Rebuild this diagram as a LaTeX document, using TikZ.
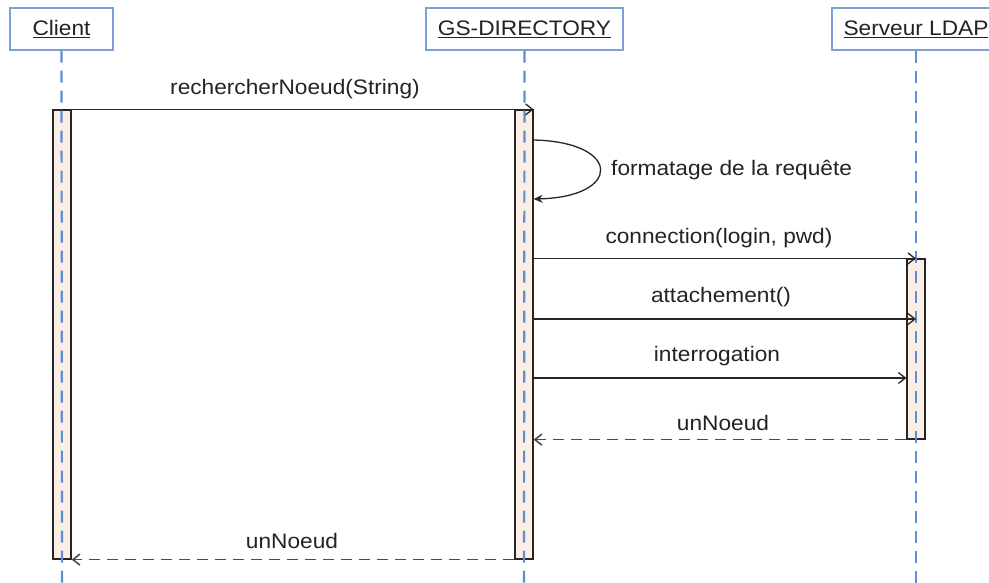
\documentclass[tikz,border=0pt]{standalone}
\usepackage{fontspec}
\setmainfont{Liberation Sans}[FakeStretch=1.08]
\usetikzlibrary{arrows.meta}
\definecolor{objblue}{RGB}{125,160,215}
\definecolor{lifeblue}{RGB}{95,140,212}
\definecolor{barfill}{RGB}{251,238,228}
\definecolor{txtgray}{RGB}{35,35,35}
\tikzset{
obj/.style={draw=objblue, line width=1.2pt, fill=white, minimum height=42, inner sep=0pt, text=txtgray},
life/.style={draw=lifeblue, line width=2.2pt, dash pattern=on 12pt off 8pt},
actbar/.style={draw=black!85, fill=barfill, line width=1.2pt, minimum width=18, inner sep=0pt},
call/.style={draw=black!85, line width=1.3pt, -{Straight Barb[length=7pt,width=11pt]}},
selfcall/.style={draw=black!85, line width=1.3pt, -{Stealth[length=9pt,width=8pt]}},
reply/.style={draw=black!70, line width=1.6pt, dash pattern=on 11pt off 7pt, -{Straight Barb[length=7pt,width=11pt]}},
lbl/.style={text=txtgray, inner sep=0pt}
}
\begin{document}
\begin{tikzpicture}[x=1pt,y=-1pt,font=\fontsize{21}{25}\selectfont]
\useasboundingbox (0,0) rectangle (989,582);
\node[obj, minimum width=103] (client) at (61.5,29) {\underline{Client}};
\node[obj, minimum width=197] (gsdir) at (524.5,29) {\underline{GS-DIRECTORY}};
\node[obj, minimum width=168] (ldap) at (916,29) {\underline{Serveur LDAP}};
\node[actbar, minimum height=449] (clientbar) at (62,334.5) {};
\node[actbar, minimum height=449] (gsbar) at (524,334.5) {};
\node[actbar, minimum height=180] (ldapbar) at (916,349) {};
\coordinate (clientend) at (62,585);
\coordinate (gsend) at (524,585);
\coordinate (ldapend) at (916,585);
\draw[life] (client.south) -- (clientend);
\draw[life] (gsdir.south) -- (gsend);
\draw[life] (ldap.south) -- (ldapend);
\draw[call] (clientbar.north east) -- (gsbar.north east);
\node[lbl] (rech) at (295,89) {rechercherNoeud(String)};
\coordinate (fmtstart) at (gsbar.east |- 0,140);
\coordinate (fmtend) at (gsbar.east |- 0,199);
\draw[selfcall] (fmtstart) .. controls (622,142) and (622,197) .. (fmtend);
\node[lbl, anchor=west] (fmt) at (611,170) {formatage de la requête};
\draw[call] (gsbar.east |- ldapbar.north) -- (ldapbar.north);
\node[lbl] (conn) at (719,238) {connection(login, pwd)};
\draw[call] (gsbar.east |- 0,319) -- (ldapbar.center |- 0,319);
\node[lbl] (attach) at (721,297) {attachement()};
\draw[call] (gsbar.east |- 0,378) -- (ldapbar.west |- 0,378);
\node[lbl] (interro) at (717,356) {interrogation};
\draw[reply] (ldapbar.south west) -- (gsbar.east |- ldapbar.south);
\node[lbl] (rep1) at (723,423) {unNoeud};
\draw[reply] (gsbar.south west) -- (clientbar.south east);
\node[lbl] (rep2) at (292,541) {unNoeud};
\end{tikzpicture}
\end{document}
